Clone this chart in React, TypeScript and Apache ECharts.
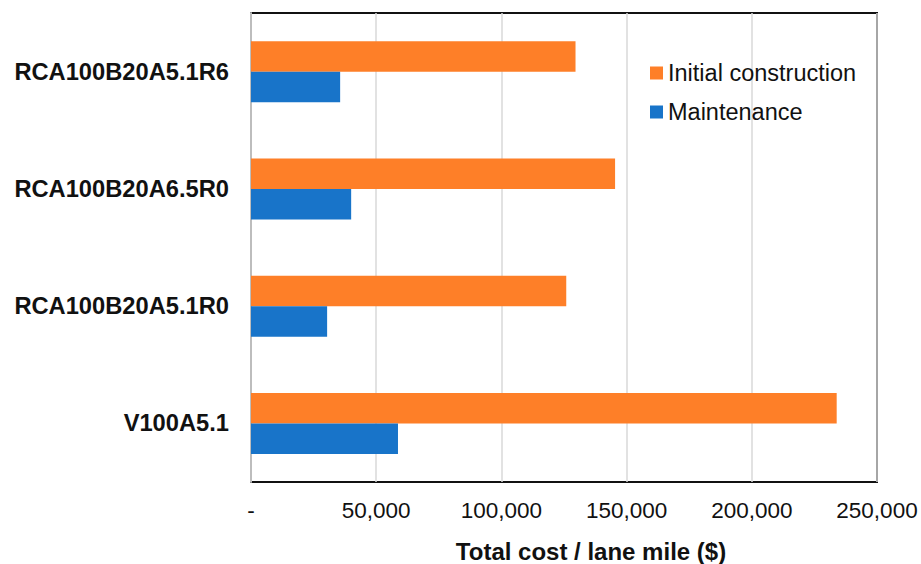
import React, { useEffect, useRef } from "react";
import * as echarts from "echarts";

// Pavement alternatives, listed bottom to top on the category axis
const categories: string[] = [
  "V100A5.1",
  "RCA100B20A5.1R0",
  "RCA100B20A6.5R0",
  "RCA100B20A5.1R6",
];

// Cost per lane mile ($)
const initialConstruction: number[] = [233900, 125900, 145400, 129600];
const maintenance: number[] = [58700, 30400, 40000, 35600];

const seriesNames: string[] = ["Initial construction", "Maintenance"];
const xTicks: number[] = [0, 50000, 100000, 150000, 200000, 250000];

const FONT = '"Liberation Sans", Arial, Helvetica, sans-serif';

export default function App() {
  const ref = useRef<HTMLDivElement>(null);

  useEffect(() => {
    document.body.style.margin = "0";
    if (!ref.current) return;
    const chart = echarts.init(ref.current, undefined, { renderer: "svg" });

    chart.setOption({
      animation: false,
      backgroundColor: "#ffffff",
      textStyle: { fontFamily: FONT },
      grid: {
        left: 251,
        right: 44,
        top: 13,
        bottom: 82,
        show: true,
        borderColor: "#111111",
        borderWidth: 2,
        containLabel: false,
        outerBoundsMode: "none",
      },
      legend: {
        orient: "vertical",
        left: 645,
        top: 56,
        itemWidth: 13,
        itemHeight: 13,
        itemGap: 15,
        icon: "rect",
        textStyle: { fontSize: 23.5, color: "#111111", fontFamily: FONT },
        data: seriesNames,
      },
      xAxis: {
        type: "value",
        min: xTicks[0],
        max: xTicks[xTicks.length - 1],
        interval: xTicks[1] - xTicks[0],
        axisLine: { show: false },
        axisTick: { show: false },
        splitLine: { show: true, lineStyle: { color: "#d9d9d9", width: 1.5 } },
        axisLabel: {
          fontSize: 22.5,
          color: "#111111",
          fontFamily: FONT,
          margin: 17,
          formatter: (v: number) => (v === 0 ? "-" : v.toLocaleString("en-US")),
        },
        name: "Total cost / lane mile ($)",
        nameLocation: "middle",
        nameGap: 57,
        nameTextStyle: {
          fontSize: 24,
          fontWeight: "bold",
          color: "#111111",
          fontFamily: FONT,
          padding: [0, 0, 0, 54],
        },
      },
      yAxis: {
        type: "category",
        data: categories,
        axisLine: { show: true, lineStyle: { color: "#bdbdbd", width: 2 } },
        axisTick: { show: false },
        splitLine: { show: false },
        axisLabel: {
          fontSize: 23.7,
          fontWeight: "bold",
          color: "#111111",
          fontFamily: FONT,
          margin: 22,
        },
      },
      series: [
        {
          name: seriesNames[0],
          type: "bar",
          data: initialConstruction,
          barWidth: 30.5,
          barGap: "0%",
          itemStyle: { color: "#fe7f28" },
        },
        {
          name: seriesNames[1],
          type: "bar",
          data: maintenance,
          barWidth: 30.5,
          barGap: "0%",
          itemStyle: { color: "#1874c9" },
        },
      ],
    });

    return () => chart.dispose();
  }, []);

  return <div ref={ref} style={{ width: 921, height: 564 }} />;
}
